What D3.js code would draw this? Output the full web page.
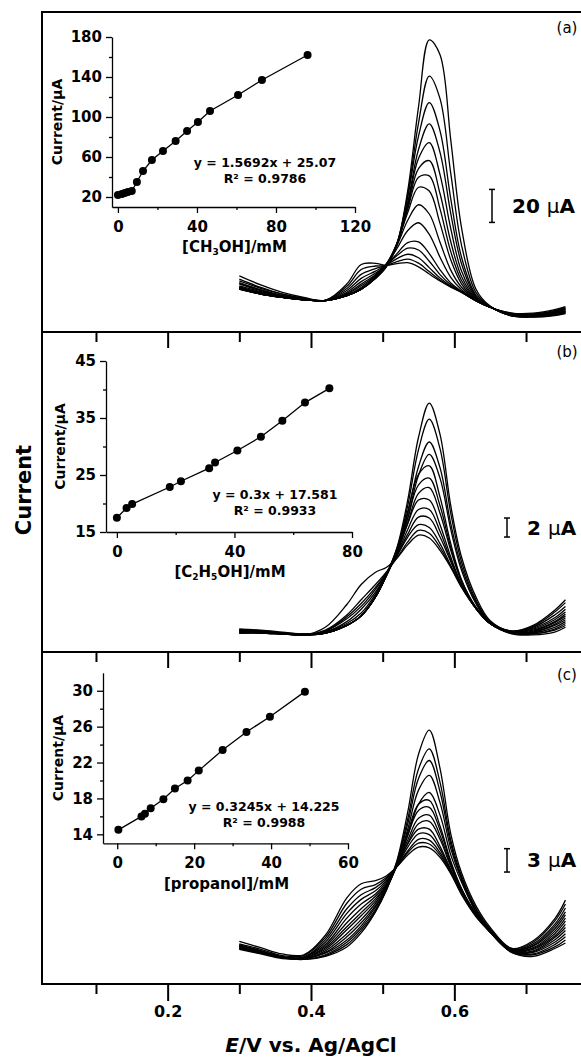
<!DOCTYPE html>
<html lang="en">
<head>
<meta charset="UTF-8">
<title>DPV responses to alcohols</title>
<script src="https://d3js.org/d3.v7.min.js"></script>
<style>
    body { margin: 0; background-color: #fff; }
    svg { display: block; font-family: "DejaVu Sans", sans-serif; }
    .frame { fill: none; stroke: #000; stroke-width: 2; }
    .dpv { fill: none; stroke: #000; stroke-width: 1.3; }
    .fit { fill: none; stroke: #000; stroke-width: 1.3; }
    .dot { fill: #000; }
    .bold { font-weight: bold; }
</style>
</head>
<body>
<svg id="chart" width="581" height="1061"></svg>
<script>
// potential grid (V) shared by every voltammogram
const potential = [0.30, 0.33, 0.36, 0.39, 0.42, 0.45, 0.47, 0.49, 0.505, 0.52, 0.535,
                   0.55, 0.565, 0.58, 0.595, 0.61, 0.63, 0.65, 0.68, 0.71, 0.74, 0.755];

// (a) methanol, current in uA
const currentsA = [
    [34, 28.5, 24, 21, 19.2, 29.1, 40.9, 41.6, 40.4, 41.4, 42, 39.5, 35.1, 30.9, 27.2, 24, 19, 15, 11.5, 11.4, 13.5, 15.4],
    [32, 27, 23, 20.5, 19.2, 27.7, 37.9, 40, 40.3, 42.7, 44.1, 41.7, 36.6, 31.5, 27.5, 24.1, 19, 15, 11.3, 11, 13, 14.8],
    [31, 26.5, 23, 20.5, 19.1, 26.3, 34.9, 38.4, 40.6, 44.5, 47.1, 45, 39, 32.7, 27.8, 24.2, 19, 15, 11.2, 10.8, 12.7, 14.4],
    [30, 25.5, 22, 20, 19.1, 25.1, 32.5, 36.9, 40.7, 46.3, 50.8, 49.7, 42.9, 34.8, 28.6, 24.4, 19, 15, 11, 10.6, 12.3, 14],
    [29.5, 25.5, 22, 20, 19.1, 24.1, 30.5, 35.7, 40.5, 47.5, 54.2, 54.6, 47.5, 37.7, 29.7, 24.7, 19, 15, 10.8, 10.4, 12, 13.8],
    [29, 25, 22, 20, 19, 23.4, 29, 34.9, 41.1, 50.6, 61.5, 66.2, 59.2, 45.3, 33.1, 25.6, 19.2, 15, 10.6, 10.2, 11.8, 13.5],
    [28, 24.5, 21.5, 19.5, 19, 23, 28, 34.3, 41.2, 52.5, 67.7, 77.1, 71.5, 54.4, 37.5, 27.1, 19.3, 15, 10.5, 10, 11.5, 13],
    [27, 24, 21, 19.5, 19, 22.5, 27, 33.6, 41, 53.7, 72.4, 87.7, 85.4, 65.8, 43.7, 29.2, 19.6, 15, 10.4, 9.9, 11.3, 12.8],
    [27.5, 23.5, 21, 19.5, 19, 22, 26, 32.9, 40.6, 53.8, 74.5, 93.7, 94.6, 74.6, 48.7, 31.2, 19.9, 15.1, 10.3, 9.8, 11.2, 12.6],
    [26.5, 23.5, 21, 19.5, 19, 22, 26, 32.8, 40.3, 53.4, 75.8, 99, 103.8, 83.9, 54.7, 33.6, 20.3, 15.1, 10.2, 9.7, 11, 12.4],
    [27, 23, 21, 19.5, 19, 22, 26, 32.7, 39.9, 53.3, 77.3, 105.1, 114.7, 95.4, 62.6, 36.9, 20.9, 15.2, 10.1, 9.6, 10.8, 12.2],
    [26, 23, 21, 19.5, 19, 22, 26, 32.6, 39.7, 52.7, 78.5, 110.6, 126.1, 108.8, 71.8, 41.4, 21.6, 15.2, 10, 9.5, 10.6, 12],
    [26.5, 23, 21, 19.5, 19, 22, 26, 32.6, 39.8, 53.6, 81.8, 118.7, 139, 121.9, 80.7, 45.3, 22.4, 15.3, 9.9, 9.4, 10.4, 11.8],
    [26, 23, 21, 19.5, 19, 22, 26, 32.6, 39.5, 53.5, 83.2, 126.6, 155.1, 141.4, 96.1, 52.7, 24, 15.4, 9.8, 9.2, 10.2, 11.5],
    [26, 23, 21, 19.5, 19, 22, 26, 32.5, 39.4, 53.3, 85.8, 136.4, 177, 168, 116.3, 63.3, 26.1, 15.7, 9.7, 9, 10, 11.2]
];

// (b) ethanol
const currentsB = [
    [16.4, 16.2, 16.0, 15.8, 16.6, 19.0, 21.1, 22.4, 22.9, 23.9, 25.3, 26.3, 26.0, 24.7, 22.9, 20.8, 18.6, 17.0, 15.9, 15.8, 16.1, 16.6],
    [16.2, 16.1, 15.9, 15.8, 16.3, 17.9, 19.5, 21.1, 22.4, 23.9, 25.6, 26.8, 26.5, 25.0, 23.0, 20.9, 18.6, 17.0, 16.0, 15.9, 16.3, 16.8],
    [16.0, 16.0, 15.9, 15.8, 16.2, 17.7, 19.1, 20.8, 22.3, 24.1, 26.1, 27.4, 27.1, 25.4, 23.1, 20.9, 18.6, 17.0, 16.0, 15.9, 16.4, 17.0],
    [16.3, 16.2, 16.0, 15.8, 16.2, 17.5, 18.8, 20.6, 22.3, 24.2, 26.4, 28.2, 28.1, 26.1, 23.5, 21.0, 18.6, 17.0, 16.0, 16.0, 16.6, 17.2],
    [16.1, 16.0, 15.9, 15.8, 16.1, 17.2, 18.5, 20.3, 22.2, 24.3, 26.9, 29.0, 29.0, 26.7, 23.7, 21.1, 18.6, 17.0, 16.0, 16.1, 16.8, 17.4],
    [16.2, 16.1, 15.9, 15.8, 16.1, 17.0, 18.1, 20.1, 22.2, 24.5, 27.5, 30.0, 30.0, 27.4, 24.0, 21.1, 18.6, 17.0, 16.0, 16.1, 16.9, 17.6],
    [16.0, 16.0, 15.9, 15.8, 16.0, 16.8, 17.8, 19.8, 22.0, 24.5, 27.6, 30.7, 31.3, 28.6, 24.7, 21.4, 18.7, 17.0, 16.1, 16.2, 17.1, 17.8],
    [16.2, 16.1, 16.0, 15.8, 16.0, 16.8, 17.8, 19.8, 22.0, 24.6, 28.1, 31.6, 32.3, 29.4, 25.0, 21.5, 18.7, 17.0, 16.1, 16.3, 17.2, 18.0],
    [16.3, 16.2, 16.0, 15.9, 16.0, 16.8, 17.8, 19.8, 22.1, 24.9, 28.8, 32.7, 33.6, 30.3, 25.4, 21.6, 18.7, 17.0, 16.1, 16.4, 17.4, 18.2],
    [16.0, 16.0, 15.9, 15.8, 16.0, 16.8, 17.8, 19.8, 22.0, 24.5, 28.1, 32.6, 34.8, 32.3, 26.9, 22.6, 19.1, 17.0, 16.1, 16.5, 17.6, 18.5],
    [16.2, 16.1, 16.0, 15.8, 16.0, 16.8, 17.8, 19.8, 22.0, 24.6, 28.6, 33.5, 36.1, 33.4, 27.5, 23.0, 19.3, 17.1, 16.2, 16.6, 17.9, 18.8],
    [16.3, 16.2, 16.0, 15.9, 16.0, 16.8, 17.8, 19.8, 22.1, 24.8, 29.4, 35.3, 38.5, 35.4, 28.6, 23.5, 19.5, 17.2, 16.2, 16.7, 18.2, 19.2],
    [16.4, 16.3, 16.1, 15.9, 16.0, 16.8, 17.8, 19.8, 22.1, 25.0, 30.0, 36.6, 40.2, 36.9, 29.4, 24.0, 19.8, 17.3, 16.2, 16.8, 18.4, 19.5]
];

// (c) propanol
const currentsC = [
    [2.8, 2.0, 1.2, 1.1, 3.6, 8.4, 10.2, 10.6, 11.2, 12.4, 13.9, 14.9, 14.8, 13.6, 11.5, 8.8, 6.0, 4.0, 1.4, 0.9, 1.9, 2.6],
    [2.5, 1.8, 1.0, 1.0, 3.3, 7.7, 9.5, 10.1, 11.0, 12.4, 14.2, 15.4, 15.3, 13.9, 11.6, 9.0, 6.1, 4.0, 1.4, 1.1, 2.1, 3.0],
    [2.2, 1.5, 0.8, 0.8, 3.0, 7.0, 8.8, 9.7, 10.8, 12.5, 14.4, 15.9, 15.8, 14.2, 11.8, 9.3, 6.3, 4.0, 1.5, 1.2, 2.4, 3.4],
    [2.0, 1.4, 0.8, 0.8, 2.7, 6.4, 8.2, 9.3, 10.6, 12.5, 14.9, 16.6, 16.5, 14.6, 11.9, 9.3, 6.3, 4.0, 1.5, 1.4, 2.7, 3.8],
    [2.3, 1.6, 0.8, 0.8, 2.4, 5.8, 7.6, 8.9, 10.4, 12.6, 15.3, 17.2, 17.2, 15.0, 12.0, 9.3, 6.3, 4.0, 1.5, 1.5, 3.0, 4.2],
    [1.9, 1.3, 0.7, 0.7, 2.2, 5.2, 7.0, 8.6, 10.2, 12.6, 15.4, 17.9, 18.2, 15.9, 12.4, 9.4, 6.3, 4.0, 1.6, 1.6, 3.3, 4.6],
    [2.2, 1.5, 0.8, 0.7, 2.0, 4.7, 6.5, 8.3, 10.0, 12.6, 15.8, 18.6, 19.0, 16.4, 12.6, 9.5, 6.3, 4.0, 1.6, 1.8, 3.5, 5.0],
    [1.8, 1.2, 0.6, 0.7, 1.8, 4.3, 6.1, 8.0, 10.0, 12.7, 16.4, 19.6, 20.0, 17.1, 12.9, 9.5, 6.3, 4.0, 1.7, 1.9, 3.8, 5.4],
    [2.4, 1.6, 0.8, 0.6, 1.6, 3.8, 5.6, 7.7, 9.8, 12.9, 16.8, 20.4, 20.9, 17.6, 13.1, 9.6, 6.3, 4.0, 1.7, 2.0, 4.1, 5.8],
    [2.0, 1.4, 0.8, 0.6, 1.4, 3.4, 5.2, 7.4, 9.6, 12.5, 16.4, 20.4, 21.9, 19.0, 13.9, 10.4, 6.6, 4.1, 1.7, 2.2, 4.4, 6.2],
    [2.2, 1.5, 0.8, 0.6, 1.3, 3.0, 4.8, 7.2, 9.6, 12.6, 17.2, 22.2, 24.1, 20.6, 14.7, 10.7, 6.7, 4.2, 1.8, 2.3, 4.7, 6.6],
    [1.9, 1.3, 0.7, 0.5, 1.1, 2.7, 4.5, 6.9, 9.4, 12.9, 17.9, 23.7, 26.0, 22.0, 15.3, 10.9, 6.9, 4.3, 1.8, 2.5, 5.0, 7.1],
    [2.3, 1.6, 0.8, 0.5, 1.0, 2.4, 4.2, 6.7, 9.3, 13.0, 18.5, 24.9, 27.5, 23.2, 15.8, 11.2, 7.1, 4.4, 1.9, 2.7, 5.4, 7.6],
    [2.1, 1.4, 0.8, 0.5, 0.9, 2.1, 3.9, 6.6, 9.4, 13.2, 19.4, 26.8, 29.9, 25.0, 16.6, 11.6, 7.4, 4.6, 1.9, 2.9, 5.7, 8.1]
];

// calibration insets: concentration (mM) and peak current (uA)
const concA = [0, 2, 3.5, 5, 7, 9.6, 12.7, 17.2, 22.8, 29.2, 35, 40.5, 46.6, 60.8, 72.9, 96];
const peakA = [22, 23, 24, 25, 26, 35, 46, 57, 66, 76, 86, 95, 106, 122, 137, 162];
const concB = [0, 3.3, 5.2, 18, 21.8, 31.4, 33.4, 41, 49, 56.3, 64, 72.3];
const peakB = [17.5, 19.2, 19.9, 22.9, 23.9, 26.2, 27.2, 29.3, 31.7, 34.5, 37.7, 40.2];
const concC = [0.3, 6.3, 7.2, 8.7, 12, 15, 18.3, 21.2, 27.4, 33.6, 39.7, 48.8];
const peakC = [14.5, 16.0, 16.3, 16.9, 17.9, 19.1, 20.0, 21.1, 23.4, 25.4, 27.1, 29.9];

// potential axis ticks
const majorE = [0.2, 0.4, 0.6];
const minorE = [0.1, 0.3, 0.5, 0.7, 0.8];

const svg = d3.select("#chart");
const x = d3.scaleLinear().domain([0, 0.8]).range([24.3, 597.7]);

const panels = [
    { data: currentsA, y: d3.scaleLinear().domain([0, 193.9]).range([332, 12]),
      label: "(a)", labelY: 33, bar: [66.4, 86.4], barText: "20", barX: 492 },
    { data: currentsB, y: d3.scaleLinear().domain([14, 47.68]).range([652, 332]),
      label: "(b)", labelY: 357, bar: [26.1, 28.1], barText: "2", barX: 507 },
    { data: currentsC, y: d3.scaleLinear().domain([-2.65, 39.91]).range([984, 652]),
      label: "(c)", labelY: 680, bar: [11.7, 14.7], barText: "3", barX: 507 }
];

// voltammograms
panels.forEach(p => {
    const line = d3.line()
        .x((d, i) => x(potential[i]))
        .y(d => p.y(d))
        .curve(d3.curveCatmullRom.alpha(0.5));
    svg.append("g").selectAll("path")
        .data(p.data)
        .join("path")
        .attr("class", "dpv")
        .attr("d", line);

    // scale bar
    const y0 = p.y(p.bar[0]), y1 = p.y(p.bar[1]);
    const bar = svg.append("g").attr("stroke", "#000").attr("stroke-width", 1.5);
    bar.append("line").attr("x1", p.barX).attr("x2", p.barX).attr("y1", y0).attr("y2", y1);
    bar.append("line").attr("x1", p.barX - 3).attr("x2", p.barX + 3).attr("y1", y0).attr("y2", y0);
    bar.append("line").attr("x1", p.barX - 3).attr("x2", p.barX + 3).attr("y1", y1).attr("y2", y1);
    const t = svg.append("text")
        .attr("x", p.barX + 20)
        .attr("y", (y0 + y1) / 2 + 7)
        .attr("font-size", 20)
        .attr("font-weight", "bold");
    t.append("tspan").text(p.barText + " ");
    t.append("tspan").attr("font-weight", "normal").text("\u03bc");
    t.append("tspan").text("A");

    svg.append("text")
        .attr("x", 567)
        .attr("y", p.labelY)
        .attr("text-anchor", "middle")
        .attr("font-size", 15)
        .text(p.label);
});

// frame and panel separators
svg.append("rect").attr("class", "frame")
    .attr("x", 42).attr("y", 12).attr("width", 570).attr("height", 972);
[332, 652].forEach(yy => {
    svg.append("line").attr("x1", 42).attr("x2", 612).attr("y1", yy).attr("y2", yy)
        .attr("stroke", "#000").attr("stroke-width", 2);
});

[332, 652, 984].forEach(yy => {
    const gMaj = svg.append("g").attr("transform", `translate(0,${yy})`)
        .call(d3.axisBottom(x).tickValues(majorE).tickSize(yy === 984 ? 17 : 16)
            .tickFormat(yy === 984 ? d3.format(".1f") : "").tickPadding(5));
    const gMin = svg.append("g").attr("transform", `translate(0,${yy})`)
        .call(d3.axisBottom(x).tickValues(minorE).tickSize(10).tickFormat(""));
    [gMaj, gMin].forEach(g => {
        g.select(".domain").remove();
        g.selectAll("line").attr("stroke-width", 2);
        g.attr("font-family", null).attr("font-size", 16).attr("font-weight", "bold");
    });
});

// axis titles of the main plot
svg.append("text")
    .attr("transform", "translate(31,490) rotate(-90)")
    .attr("text-anchor", "middle")
    .attr("font-size", 21)
    .attr("font-weight", "bold")
    .text("Current");

const xt = svg.append("text")
    .attr("x", 311).attr("y", 1052)
    .attr("text-anchor", "middle")
    .attr("font-size", 20)
    .attr("font-weight", "bold");
xt.append("tspan").attr("font-style", "italic").text("E");
xt.append("tspan").text("/V vs. Ag/AgCl");

// calibration insets
function drawInset(c) {
    const g = svg.append("g").attr("class", "bold");
    const xs = d3.scaleLinear().domain(c.xDomain).range(c.xRange);
    const ys = d3.scaleLinear().domain(c.yDomain).range(c.yRange);

    const axes = [
        g.append("g").attr("transform", `translate(0,${c.yRange[0]})`)
            .call(d3.axisBottom(xs).tickValues(c.xMinor).tickSize(3).tickFormat("")),
        g.append("g").attr("transform", `translate(${c.xRange[0]},0)`)
            .call(d3.axisLeft(ys).tickValues(c.yMinor).tickSize(3).tickFormat("")),
        g.append("g").attr("transform", `translate(0,${c.yRange[0]})`)
            .call(d3.axisBottom(xs).tickValues(c.xMajor).tickSize(6).tickPadding(8).tickSizeOuter(0)),
        g.append("g").attr("transform", `translate(${c.xRange[0]},0)`)
            .call(d3.axisLeft(ys).tickValues(c.yMajor).tickSize(6).tickPadding(4).tickSizeOuter(0))
    ];
    axes.slice(0, 2).forEach(a => a.select(".domain").remove());
    axes.forEach(a => {
        a.attr("font-family", null).attr("font-size", 15).attr("font-weight", "bold");
        a.selectAll("line, path").attr("stroke-width", 1.3);
    });

    g.append("path")
        .datum(c.conc)
        .attr("class", "fit")
        .attr("d", d3.line().x(d => xs(d)).y((d, i) => ys(c.peak[i])));
    g.selectAll("circle")
        .data(c.conc)
        .join("circle")
        .attr("class", "dot")
        .attr("cx", d => xs(d))
        .attr("cy", (d, i) => ys(c.peak[i]))
        .attr("r", 4);

    const xt = g.append("text")
        .attr("x", (c.xRange[0] + c.xRange[1]) / 2 + 1)
        .attr("y", c.titleY)
        .attr("text-anchor", "middle")
        .attr("font-size", 15);
    c.title.forEach(part => {
        if (part.sub) {
            xt.append("tspan").attr("font-size", 9).attr("dy", 3).text(part.t);
        } else {
            xt.append("tspan").attr("dy", part.after ? -3 : 0).text(part.t);
        }
    });

    g.append("text")
        .attr("transform", `translate(${c.yTitleX},${(c.yRange[0] + c.yRange[1]) / 2}) rotate(-90)`)
        .attr("text-anchor", "middle")
        .attr("font-size", 14)
        .text("Current/\u03bcA");

    c.eq.forEach((s, i) => {
        g.append("text")
            .attr("x", c.eqX)
            .attr("y", c.eqY + i * 16)
            .attr("text-anchor", "middle")
            .attr("font-size", 12.5)
            .text(s);
    });
}

drawInset({
    conc: concA, peak: peakA,
    xDomain: [-3, 120], xRange: [112, 355], yDomain: [10, 180], yRange: [207, 37],
    xMajor: [0, 40, 80, 120], xMinor: [20, 60, 100],
    yMajor: [20, 60, 100, 140, 180], yMinor: [40, 80, 120, 160],
    title: [{ t: "[CH" }, { t: "3", sub: true }, { t: "OH]/mM", after: true }],
    titleY: 252, yTitleX: 62,
    eq: ["y = 1.5692x + 25.07", "R\u00b2 = 0.9786"], eqX: 265, eqY: 167
});

drawInset({
    conc: concB, peak: peakB,
    xDomain: [-3.7, 80], xRange: [106, 352], yDomain: [15, 45], yRange: [532, 361],
    xMajor: [0, 40, 80], xMinor: [20, 60],
    yMajor: [15, 25, 35, 45], yMinor: [20, 30, 40],
    title: [{ t: "[C" }, { t: "2", sub: true }, { t: "H", after: true }, { t: "5", sub: true }, { t: "OH]/mM", after: true }],
    titleY: 577, yTitleX: 65,
    eq: ["y = 0.3x + 17.581", "R\u00b2 = 0.9933"], eqX: 275, eqY: 499
});

drawInset({
    conc: concC, peak: peakC,
    xDomain: [-3.7, 60], xRange: [103, 348], yDomain: [13, 32], yRange: [843.3, 672.8],
    xMajor: [0, 20, 40, 60], xMinor: [10, 30, 50],
    yMajor: [14, 18, 22, 26, 30], yMinor: [16, 20, 24, 28],
    title: [{ t: "[propanol]/mM" }],
    titleY: 889, yTitleX: 63,
    eq: ["y = 0.3245x + 14.225", "R\u00b2 = 0.9988"], eqX: 264, eqY: 811
});
</script>
</body>
</html>
